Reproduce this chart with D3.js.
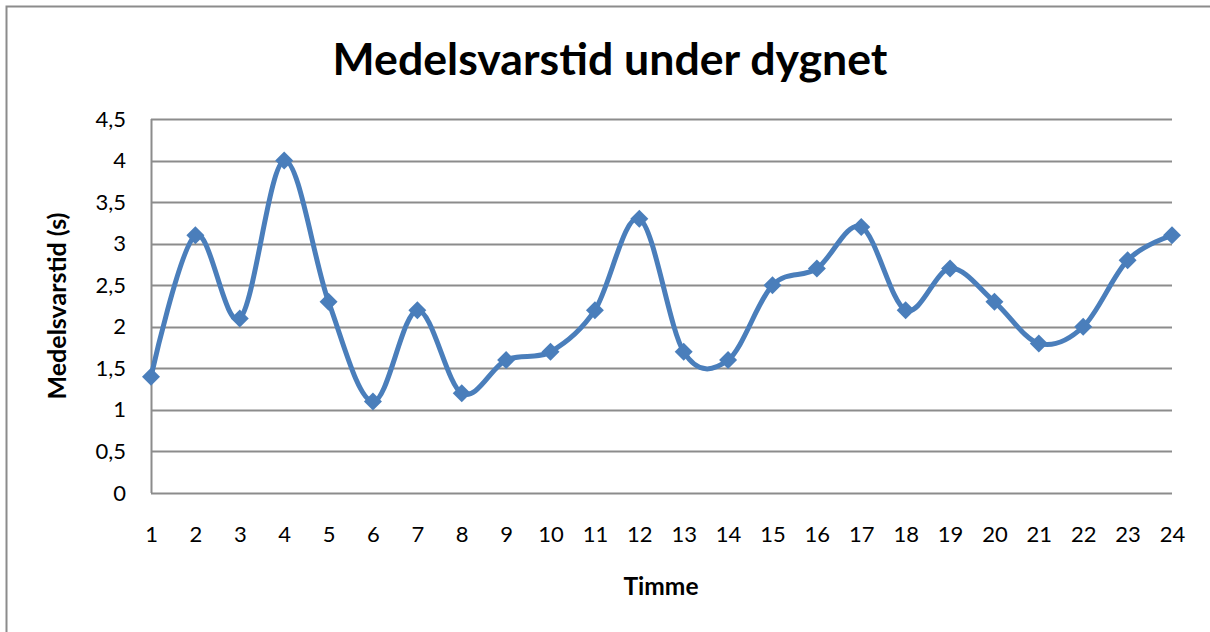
<!DOCTYPE html>
<html>
<head>
<meta charset="utf-8">
<script src="https://cdn.jsdelivr.net/npm/d3@7"></script>
<style>
  html, body { margin: 0; padding: 0; background: #fff; }
  svg { display: block; font-family: Lato, "Open Sans", sans-serif; }
</style>
</head>
<body>
<div id="chart-container"></div>
<script>
// data
const hours = ["1","2","3","4","5","6","7","8","9","10","11","12","13","14","15","16","17","18","19","20","21","22","23","24"];
const avgTime = [1.4, 3.1, 2.1, 4.0, 2.3, 1.1, 2.2, 1.2, 1.6, 1.7, 2.2, 3.3, 1.7, 1.6, 2.5, 2.7, 3.2, 2.2, 2.7, 2.3, 1.8, 2.0, 2.8, 3.1];
const yTicks = [0, 0.5, 1, 1.5, 2, 2.5, 3, 3.5, 4, 4.5];
const title = "Medelsvarstid under dygnet";
const xTitle = "Timme";
const yTitle = "Medelsvarstid (s)";

{ // start block scope
  const color = {
    line: '#4a7ebb',
    grid: '#8c8c8c',
    border: '#8c8c8c',
    text: '#000000'
  };

  // constants
  const totalWidth = 1210;
  const totalHeight = 632;
  const margin = { top: 119, left: 151, bottom: 139, right: 38 };
  const width = totalWidth - margin.left - margin.right;
  const height = totalHeight - margin.top - margin.bottom;

  const svg = d3.select('#chart-container')
    .append('svg')
    .attr('width', totalWidth)
    .attr('height', totalHeight);

  // outer chart border
  svg.append('rect')
    .attr('x', 6.5).attr('y', 6.5)
    .attr('width', totalWidth + 10).attr('height', totalHeight + 10)
    .attr('fill', 'none')
    .attr('stroke', color.border)
    .attr('stroke-width', 2);

  const g = svg.append('g')
    .attr('transform', `translate(${margin.left}, ${margin.top})`);

  // scales
  const xScale = d3.scalePoint()
    .domain(hours)
    .range([0, width]);
  const yScale = d3.scaleLinear()
    .domain([0, 4.5])
    .range([height, 0]);

  // gridlines
  g.append('g')
    .selectAll('line')
    .data(yTicks)
    .enter()
    .append('line')
    .attr('x1', 0).attr('x2', width)
    .attr('y1', d => Math.round(yScale(d)) + 0.5)
    .attr('y2', d => Math.round(yScale(d)) + 0.5)
    .attr('stroke', color.grid)
    .attr('stroke-width', 2);

  // y axis
  const yAxis = d3.axisLeft(yScale)
    .tickValues(yTicks)
    .tickSize(0)
    .tickPadding(25)
    .tickFormat(d => String(d).replace('.', ','));
  const yAxisGroup = g.append('g').call(yAxis);
  yAxisGroup.select('.domain')
    .attr('stroke', color.grid).attr('stroke-width', 2)
    .attr('d', `M0.5,0V${height}`);
  yAxisGroup.selectAll('text')
    .attr('font-size', 22).attr('fill', color.text)
    .attr('font-family', 'Lato, sans-serif');

  // x axis
  const xAxis = d3.axisBottom(xScale).tickSize(0).tickPadding(33);
  const xAxisGroup = g.append('g')
    .attr('transform', `translate(0, ${height})`)
    .call(xAxis);
  xAxisGroup.select('.domain').remove();
  xAxisGroup.selectAll('text')
    .attr('font-size', 22).attr('fill', color.text)
    .attr('font-family', 'Lato, sans-serif');

  // line
  const line = d3.line()
    .x((d, i) => xScale(hours[i]))
    .y(d => yScale(d))
    .curve(d3.curveCardinal.tension(0));
  g.append('path')
    .datum(avgTime)
    .attr('d', line)
    .attr('fill', 'none')
    .attr('stroke', color.line)
    .attr('stroke-width', 5)
    .attr('stroke-linejoin', 'round');

  // diamond markers
  const diamond = d3.symbol().type(d3.symbolDiamond2).size(206);
  g.append('g')
    .selectAll('path')
    .data(avgTime)
    .enter()
    .append('path')
    .attr('d', diamond)
    .attr('transform', (d, i) => `translate(${xScale(hours[i])}, ${yScale(d)})`)
    .attr('fill', color.line);

  // titles
  function fitText(sel, target) {
    const w = sel.node().getComputedTextLength();
    const fs = parseFloat(sel.attr('font-size'));
    sel.attr('font-size', fs * target / w);
  }

  const titleText = svg.append('text')
    .attr('x', 610).attr('y', 75)
    .attr('text-anchor', 'middle')
    .attr('font-weight', 'bold')
    .attr('font-size', 36)
    .attr('fill', color.text)
    .text(title);
  fitText(titleText, 555);

  const xTitleText = svg.append('text')
    .attr('x', 661).attr('y', 595)
    .attr('text-anchor', 'middle')
    .attr('font-weight', 'bold')
    .attr('font-size', 20)
    .attr('fill', color.text)
    .text(xTitle);
  fitText(xTitleText, 75);

  const yTitleText = svg.append('text')
    .attr('transform', `translate(66, ${margin.top + height / 2}) rotate(-90)`)
    .attr('text-anchor', 'middle')
    .attr('font-weight', 'bold')
    .attr('font-size', 20)
    .attr('fill', color.text)
    .text(yTitle);
  fitText(yTitleText, 187);
} // end block scope
</script>
</body>
</html>
